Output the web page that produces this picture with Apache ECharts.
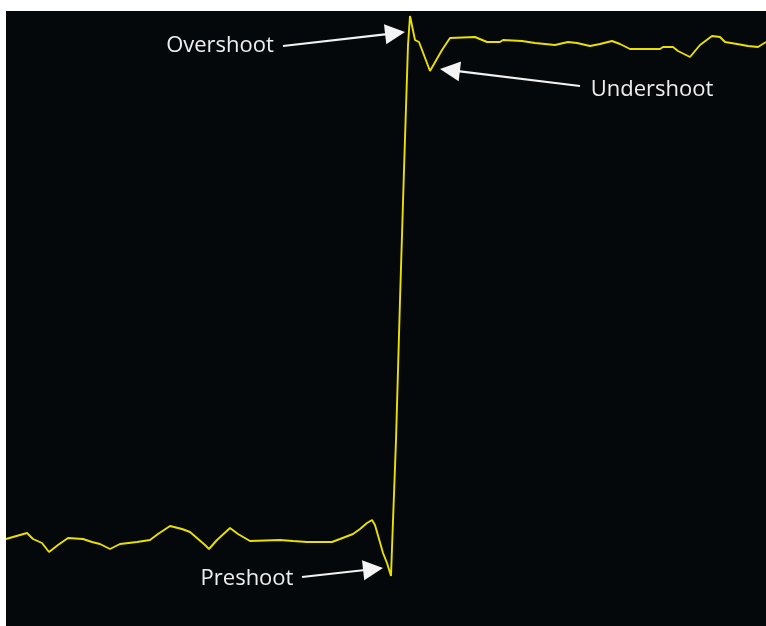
<!DOCTYPE html>
<html>
<head>
<meta charset="utf-8">
<script src="https://cdn.jsdelivr.net/npm/echarts@6/dist/echarts.min.js"></script>
<style>
  html, body { margin: 0; padding: 0; background: #ffffff; }
  #chart { width: 766px; height: 626px; }
</style>
</head>
<body>
<div id="chart"></div>
<script>
// Sampled step response (time units, amplitude units; low level ~0, high level ~500)
const time = [0, 21, 27, 36, 43, 52, 62, 77, 86, 94,
  104, 114, 131, 144, 152, 164, 176, 184, 199, 203,
  211, 224, 232, 244, 274, 287, 301, 326, 334, 347,
  354, 361, 366, 369, 377, 381, 385, 386, 390, 394,
  398, 402, 404, 409, 413, 424, 436, 444, 469, 481,
  494, 497, 516, 529, 539, 549, 562, 571, 584, 594,
  606, 614, 624, 654, 657, 667, 672, 684, 694, 706,
  714, 719, 731, 742, 752, 760];
const signal = [2, 8, 2, -2, -11, -4, 3, 2, -1, -3,
  -8, -3, -1, 1, 7, 15, 12, 9, -4, -8,
  1, 13, 7, 0, 1, 0, -1, -1, 2, 7,
  12, 18, 21, 16, -12, -22, -35, -7, 101, 241,
  371, 496, 525, 501, 499, 470, 491, 503, 504, 499,
  499, 501, 500, 498, 497, 496, 499, 498, 495, 497,
  500, 497, 492, 492, 494, 494, 490, 484, 496, 505,
  504, 499, 497, 495, 494, 499];

// Annotations: label text, label anchor, arrow start and arrow tip (data coordinates)
const annLabels = ['Overshoot', 'Undershoot', 'Preshoot'];
const annTextPos = [[214, 495], [646, 451], [241, -38]];
const annArrowFrom = [[277, 495], [574, 455], [296, -36]];
const annArrowTo = [[399, 509], [434, 472], [377, -27]];

const xMin = 0, xMax = 760, yMin = -85, yMax = 530;

const chart = echarts.init(document.getElementById('chart'), null, { renderer: 'canvas' });
const seriesData = time.map((t, i) => [t, signal[i]]);

chart.setOption({
  backgroundColor: '#ffffff',
  animation: false,
  grid: {
    left: 6, right: 0, top: 11, bottom: 0,
    show: true, backgroundColor: '#05080a', borderWidth: 0
  },
  xAxis: {
    type: 'value', min: xMin, max: xMax,
    show: false, splitLine: { show: false }
  },
  yAxis: {
    type: 'value', min: yMin, max: yMax,
    show: false, splitLine: { show: false }
  },
  series: [{
    type: 'line',
    data: seriesData,
    showSymbol: false,
    symbol: 'none',
    lineStyle: { color: '#ebe000', width: 1.9 },
    silent: true
  }]
});

function buildAnnotations() {
  const els = [];
  const font = '22px "Open Sans", "Noto Sans", sans-serif';
  for (let i = 0; i < annLabels.length; i++) {
    const tp = chart.convertToPixel({ gridIndex: 0 }, annTextPos[i]);
    const a = chart.convertToPixel({ gridIndex: 0 }, annArrowFrom[i]);
    const b = chart.convertToPixel({ gridIndex: 0 }, annArrowTo[i]);
    const dx = b[0] - a[0], dy = b[1] - a[1];
    const len = Math.sqrt(dx * dx + dy * dy);
    const ux = dx / len, uy = dy / len;
    const headLen = 20, headHalf = 10;
    const bx = b[0] - ux * headLen, by = b[1] - uy * headLen;
    els.push({
      type: 'text',
      style: {
        text: annLabels[i], x: tp[0], y: tp[1],
        align: 'center', verticalAlign: 'middle',
        fill: '#eeeeee', font: font
      }
    });
    els.push({
      type: 'line',
      shape: { x1: a[0], y1: a[1], x2: bx + ux * 2, y2: by + uy * 2 },
      style: { stroke: '#f2f2f2', lineWidth: 2.2 }
    });
    els.push({
      type: 'polygon',
      shape: {
        points: [
          [b[0], b[1]],
          [bx - uy * headHalf, by + ux * headHalf],
          [bx + uy * headHalf, by - ux * headHalf]
        ]
      },
      style: { fill: '#f4f4f4' }
    });
  }
  chart.setOption({ graphic: { elements: els } });
}
buildAnnotations();
</script>
</body>
</html>
